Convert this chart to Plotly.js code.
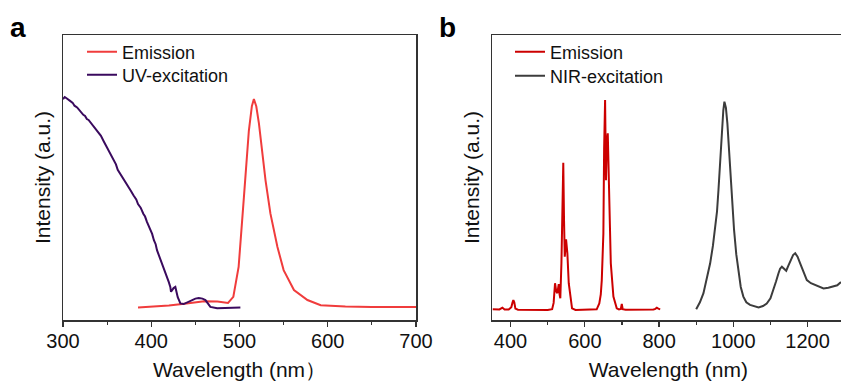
<!DOCTYPE html>
<html>
<head>
<meta charset="utf-8">
<script src="https://cdn.plot.ly/plotly-3.0.1.min.js"></script>
<style>
html,body{margin:0;padding:0;overflow:hidden;background:#fff;}
#chart{width:850px;height:383px;}
</style>
</head>
<body>
<div id="chart"></div>
<script>
// Panel a
const aEmX = [385,400,420,440,460,475,487,493,499,505,510.6,514,516.3,519,522,529.5,535,543,550,561.7,577,592,620,650,700];
const aEmY = [4.4,4.7,5.1,5.8,6.6,6.5,6.0,8.1,18.6,43.1,66.4,75,77.5,75,69,49,37.4,25.6,17.5,10.5,7,5.2,4.7,4.6,4.6];
const aUvX = [300,302,304,306,308,311,313,316,319,321,323,325,327,329,331,333,334.5,337,340,343,345.8,348,351,354,357,360,362,365,368.5,371,374,377,380,383,385,388,391,393,395,397,399,401,403,405,406.5,408,410,412,414,416,418,420,421.6,422.4,425.3,427.3,430,433,436.7,441,446,450,453.8,458,461.4,467,474.7,485,501];
const aUvY = [77.5,78.2,77.8,77.2,76.9,76.2,75.2,74.6,73.4,72.9,72,71.6,70.5,70.2,69.4,68.9,68.2,67.3,65.8,64.6,62.9,61.6,59.5,58.1,55.9,54.6,52.7,51.3,49.5,48.4,46.6,45.3,43.7,42.3,40.7,39.4,37.3,36.3,34.5,33.2,31.5,30.2,28,26.6,24.5,23.3,21.5,20.1,18.1,16.8,14.8,13.2,11.6,9.9,11.2,11.6,8.0,5.8,5.6,6.2,7,7.5,7.7,7.5,7,4.6,4.1,4.2,4.4];
// Panel b
const bEmX = [352,370,378,381,384,395,402,405,407.5,410,413,420,460,500,512,516,519.8,523,526,529.8,532,534,537,540,542,544,546,549.5,553,556.7,560,565.6,575,600,620,632,639,643,645.7,648,650,652,654.6,657,659,661.8,664.5,667,670,677,686,692,697,699.6,702,710,750,785,790,794,798,803];
const bEmY = [3.75,3.7,4.3,3.9,3.7,3.7,4.5,6.0,7.0,6.2,4.0,3.6,3.5,3.5,3.8,6,12.9,10,9.4,12.6,9,7.6,20,45,55.2,35,22.2,28.3,23.4,12.9,9.4,4.1,3.5,3.5,3.5,3.75,5.8,9,14,22,30.4,60,77.2,49,62,65.5,49,32,19.9,8.2,4.1,3.7,3.9,5.6,3.8,3.6,3.6,3.7,3.9,4.3,4.0,3.75];
const bNirX = [900,910,919.6,928,937.6,945,951,956,960,965,969,973,976,980,984,988,993,998,1002,1008,1014,1020,1027,1035,1045,1055,1068,1080,1090,1100,1108,1115,1121.7,1126,1130.8,1136,1142.5,1148,1155,1161,1166.7,1173,1180,1189,1198,1209,1220.6,1232,1243,1256,1270,1280,1288,1300];
const bNirY = [3.75,6.2,9.4,14,19.9,26,31.6,38,45.6,56,66.7,73.5,76.6,74.5,69,60,49,39,31.6,23,16.4,11.6,8.2,6.2,5.3,4.8,4.4,4.9,5.8,7.6,10.5,13.5,16.4,18.0,18.7,17.9,17.3,19,21,22.8,23.4,22.2,19.9,16.8,14,12.9,12.3,11.6,11.1,11.3,11.7,12.2,13.1,13.6];

const W = 850, H = 383;
const font = "Arial, 'Liberation Sans', sans-serif";
const axCol = '#333333';

const traces = [
  {x:aEmX, y:aEmY, name:'Emission', mode:'lines', line:{color:'#f03c3c', width:2}, xaxis:'x', yaxis:'y', legend:'legend'},
  {x:aUvX, y:aUvY, name:'UV-excitation', mode:'lines', line:{color:'#3a0a5e', width:2}, xaxis:'x', yaxis:'y', legend:'legend2'},
  {x:bEmX, y:bEmY, name:'Emission', mode:'lines', line:{color:'#cc0000', width:2}, xaxis:'x2', yaxis:'y2', legend:'legend3'},
  {x:bNirX, y:bNirY, name:'NIR-excitation', mode:'lines', line:{color:'#3c3c3c', width:2}, xaxis:'x2', yaxis:'y2', legend:'legend4'}
];

const yDom = [(H-320)/H, (H-35)/H];

function xAx(dom, range, dtick, minor, title){
  return {
    domain: dom, range: range, dtick: dtick, tick0: 0,
    showline: true, mirror: true, linecolor: axCol, linewidth: 1.5,
    ticks: 'outside', ticklen: 5, tickwidth: 1.2, tickcolor: axCol,
    minor: {dtick: minor, ticks: 'outside', ticklen: 3, tickwidth: 1.2, tickcolor: axCol},
    showgrid: false, zeroline: false,
    tickfont: {family: font, size: 20, color: '#111'},
    ticklabelstandoff: -3,
    title: {text: title, font: {family: font, size: 21, color: '#111'}, standoff: 12},
    automargin: false
  };
}
function yAx(dom, anchor){
  return {
    domain: yDom, range: [0,100], anchor: anchor,
    showline: true, mirror: true, linecolor: axCol, linewidth: 1.5,
    ticks: '', showticklabels: false, showgrid: false, zeroline: false,
    title: {text: 'Intensity (a.u.)', font: {family: font, size: 21, color: '#111'}, standoff: 5},
    automargin: false
  };
}
function leg(xpx, ypx){
  return {x: xpx/W, y: 1-ypx/H, xanchor:'left', yanchor:'middle', bgcolor:'rgba(0,0,0,0)',
          font:{family:font, size:18, color:'#111'}, tracegroupgap:0};
}

const layout = {
  width: W, height: H,
  margin: {l:0, r:0, t:0, b:0},
  paper_bgcolor: '#fff', plot_bgcolor: '#fff',
  xaxis: Object.assign(xAx([63/W, 416/W], [300,700], 100, 50, 'Wavelength (nm）'), {anchor:'y'}),
  yaxis: yAx(yDom, 'x'),
  xaxis2: Object.assign(xAx([492/W, 844.7/W], [350,1300], 200, 100, 'Wavelength (nm)'), {anchor:'y2'}),
  yaxis2: yAx(yDom, 'x2'),
  legend: leg(82, 52),
  legend2: leg(82, 75),
  legend3: leg(510, 52),
  legend4: leg(510, 76),
  showlegend: true,
  annotations: [
    {text:'<b>a</b>', x:8/W, y:1-27/H, xref:'paper', yref:'paper', xanchor:'left', yanchor:'middle', showarrow:false, font:{family:font, size:28, color:'#000'}},
    {text:'<b>b</b>', x:437/W, y:1-27/H, xref:'paper', yref:'paper', xanchor:'left', yanchor:'middle', showarrow:false, font:{family:font, size:28, color:'#000'}}
  ]
};

Plotly.newPlot('chart', traces, layout, {displayModeBar:false, staticPlot:true});
</script>
</body>
</html>
